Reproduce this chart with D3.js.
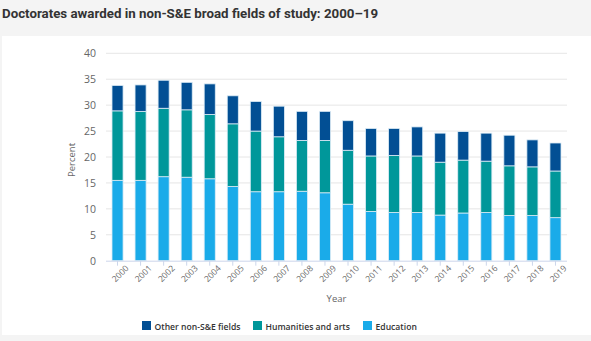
<!DOCTYPE html>
<html>
<head>
<meta charset="utf-8">
<script src="https://cdn.jsdelivr.net/npm/d3@7.9.0/dist/d3.min.js"></script>
<style>
    body { margin: 0; background: #f4f4f4; }
    svg { display: block; }
</style>
</head>
<body>
<svg id="chart" width="591" height="341"></svg>
<script>
const years = ["2000", "2001", "2002", "2003", "2004", "2005", "2006", "2007", "2008", "2009",
    "2010", "2011", "2012", "2013", "2014", "2015", "2016", "2017", "2018", "2019"];

// percent of all doctorates, per broad field
const education = [15.5, 15.5, 16.2, 16.1, 15.8, 14.3, 13.3, 13.3, 13.4, 13.1,
    10.9, 9.5, 9.3, 9.3, 8.8, 9.2, 9.3, 8.7, 8.7, 8.3];
const humanities = [13.4, 13.3, 13.2, 13.0, 12.4, 12.1, 11.7, 10.6, 9.8, 10.1,
    10.4, 10.7, 11.0, 10.9, 10.2, 10.2, 9.9, 9.6, 9.4, 9.0];
const otherFields = [4.9, 5.1, 5.4, 5.3, 5.9, 5.4, 5.7, 5.9, 5.6, 5.6,
    5.7, 5.3, 5.2, 5.6, 5.6, 5.5, 5.4, 5.9, 5.2, 5.4];

const seriesNames = ["Other non-S&E fields", "Humanities and arts", "Education"];
const yTicks = [0, 5, 10, 15, 20, 25, 30, 35, 40];

const colors = {
    education: "#1aabe9",
    humanities: "#00979a",
    other: "#024f94"
};

const svg = d3.select("#chart");

// white panel under the title band
svg.append("rect")
    .attr("x", 2)
    .attr("y", 36)
    .attr("width", 589)
    .attr("height", 299)
    .attr("fill", "#fff");

svg.append("text")
    .attr("x", 2)
    .attr("y", 17.5)
    .attr("font-family", "Roboto, sans-serif")
    .attr("font-weight", "bold")
    .attr("font-size", 13.3)
    .attr("fill", "#333")
    .text("Doctorates awarded in non-S&E broad fields of study: 2000\u201319");

const plot = { left: 106, right: 567, top: 53.3, bottom: 260.7 };

const x = d3.scaleBand()
    .domain(years)
    .range([plot.left, plot.right])
    .paddingInner(0.52)
    .paddingOuter(0.26);

const y = d3.scaleLinear()
    .domain([0, 40])
    .range([plot.bottom, plot.top]);

// gridlines
svg.append("g")
    .selectAll("line")
    .data(yTicks.slice(1))
    .join("line")
    .attr("x1", plot.left)
    .attr("x2", plot.right)
    .attr("y1", d => y(d))
    .attr("y2", d => y(d))
    .attr("stroke", "#e6e6e6")
    .attr("stroke-width", 1);

// y axis labels
const yAxis = svg.append("g")
    .attr("transform", `translate(${plot.left},0)`)
    .call(d3.axisLeft(y).tickValues(yTicks).tickSize(0).tickPadding(10));
yAxis.select(".domain").remove();
yAxis.selectAll("text")
    .attr("font-family", "'Open Sans', sans-serif")
    .attr("font-size", 10.5)
    .attr("fill", "#666");

svg.append("text")
    .attr("transform", `translate(75,${(plot.top + plot.bottom) / 2 + 3}) rotate(-90)`)
    .attr("text-anchor", "middle")
    .attr("font-family", "'Open Sans', sans-serif")
    .attr("font-size", 9.5)
    .attr("fill", "#666")
    .text("Percent");

// stacked bars
const rows = years.map((yr, i) => ({
    year: yr,
    education: education[i],
    humanities: humanities[i],
    other: otherFields[i]
}));

const stack = d3.stack().keys(["education", "humanities", "other"]);
const layers = stack(rows);

svg.append("g")
    .selectAll("g")
    .data(layers)
    .join("g")
    .attr("fill", d => colors[d.key])
    .selectAll("rect")
    .data(d => d)
    .join("rect")
    .attr("x", d => x(d.data.year))
    .attr("y", d => y(d[1]))
    .attr("width", x.bandwidth())
    .attr("height", d => y(d[0]) - y(d[1]))
    .attr("stroke", "#dcecf6")
    .attr("stroke-width", 0.8);

// x axis
const xAxis = svg.append("g")
    .attr("transform", `translate(0,${plot.bottom})`)
    .call(d3.axisBottom(x).tickSize(5).tickPadding(4));
xAxis.select(".domain")
    .attr("stroke", "#ccd6eb")
    .attr("d", `M${plot.left},0.5H${plot.right}`);
xAxis.selectAll(".tick line").attr("stroke", "#ccd6eb");
xAxis.selectAll("text")
    .attr("font-family", "'Open Sans', sans-serif")
    .attr("font-size", 8.5)
    .attr("fill", "#666")
    .attr("text-anchor", "end")
    .attr("dx", "0.3em")
    .attr("dy", "0.6em")
    .attr("transform", "rotate(-45)");

svg.append("text")
    .attr("x", (plot.left + plot.right) / 2)
    .attr("y", 302)
    .attr("text-anchor", "middle")
    .attr("font-family", "'Open Sans', sans-serif")
    .attr("font-size", 9.5)
    .attr("fill", "#666")
    .text("Year");

// legend
const legendItems = [
    { name: seriesNames[0], key: "other", x: 142 },
    { name: seriesNames[1], key: "humanities", x: 253 },
    { name: seriesNames[2], key: "education", x: 363 }
];

const legend = svg.append("g")
    .selectAll("g")
    .data(legendItems)
    .join("g")
    .attr("transform", d => `translate(${d.x},321)`);

legend.append("rect")
    .attr("width", 9)
    .attr("height", 9)
    .attr("fill", d => colors[d.key]);

legend.append("text")
    .attr("x", 12.5)
    .attr("y", 8.5)
    .attr("font-family", "'Open Sans', sans-serif")
    .attr("font-weight", 600)
    .attr("font-size", 8.6)
    .attr("fill", "#333")
    .text(d => d.name);
</script>
</body>
</html>
